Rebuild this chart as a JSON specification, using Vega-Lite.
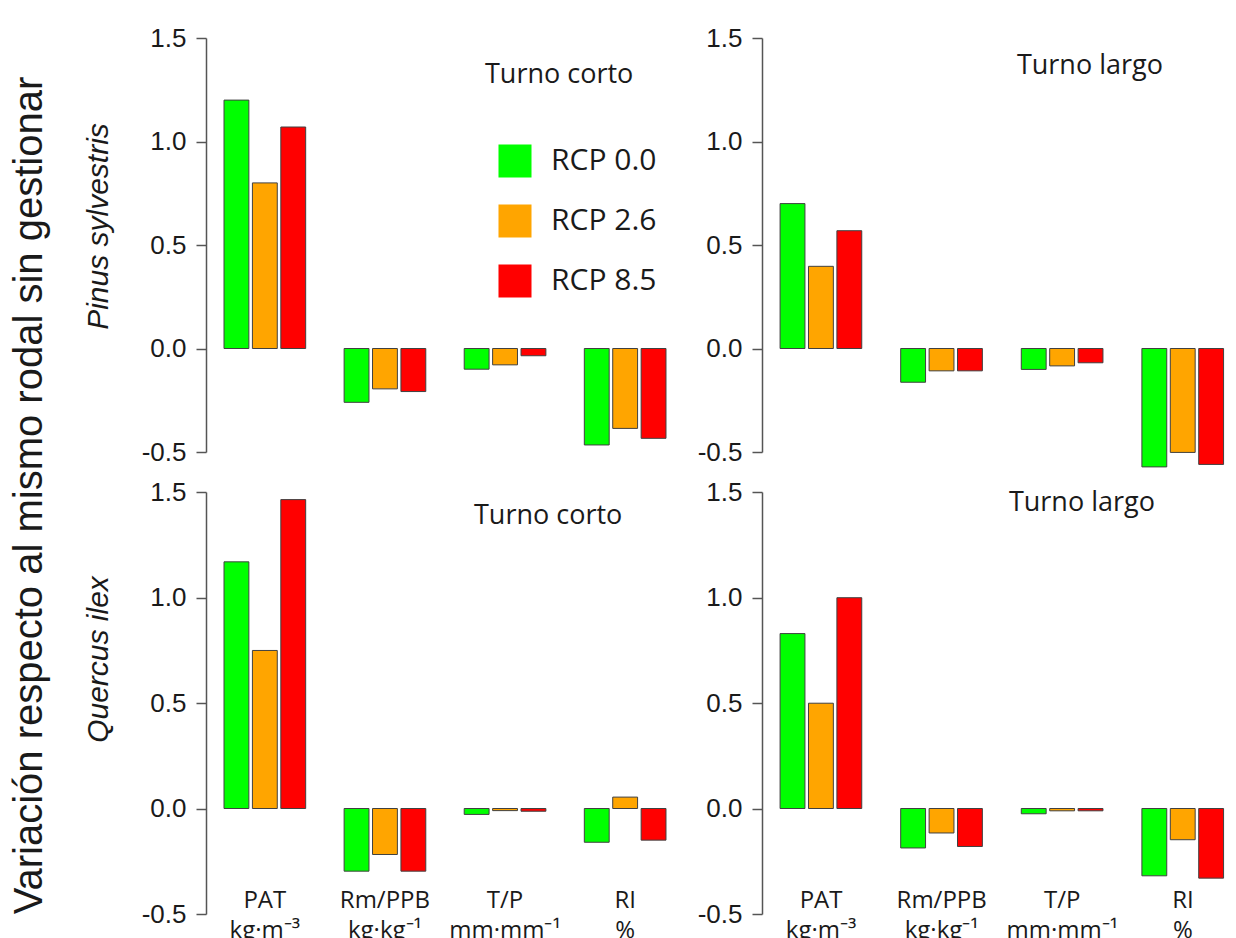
{
  "$schema": "https://vega.github.io/schema/vega-lite/v6.json",
  "autosize": {"type": "pad"},
  "padding": {"left": 10, "top": 25, "right": 0, "bottom": 0},
  "background": "white",
  "title": {
    "text": "Variación respecto al mismo rodal sin gestionar",
    "orient": "left",
    "anchor": "middle",
    "font": "Liberation Sans",
    "fontSize": 40,
    "fontWeight": "normal",
    "color": "#1a1a1a",
    "offset": 33,
    "dx": -12
  },
  "datasets": {
    "d": [
      {"species": "Pinus", "turno": "corto", "variable": "PAT", "rcp": "RCP 0.0", "value": 1.20},
      {"species": "Pinus", "turno": "corto", "variable": "PAT", "rcp": "RCP 2.6", "value": 0.80},
      {"species": "Pinus", "turno": "corto", "variable": "PAT", "rcp": "RCP 8.5", "value": 1.07},
      {"species": "Pinus", "turno": "corto", "variable": "Rm/PPB", "rcp": "RCP 0.0", "value": -0.26},
      {"species": "Pinus", "turno": "corto", "variable": "Rm/PPB", "rcp": "RCP 2.6", "value": -0.195},
      {"species": "Pinus", "turno": "corto", "variable": "Rm/PPB", "rcp": "RCP 8.5", "value": -0.208},
      {"species": "Pinus", "turno": "corto", "variable": "T/P", "rcp": "RCP 0.0", "value": -0.10},
      {"species": "Pinus", "turno": "corto", "variable": "T/P", "rcp": "RCP 2.6", "value": -0.079},
      {"species": "Pinus", "turno": "corto", "variable": "T/P", "rcp": "RCP 8.5", "value": -0.035},
      {"species": "Pinus", "turno": "corto", "variable": "RI", "rcp": "RCP 0.0", "value": -0.466},
      {"species": "Pinus", "turno": "corto", "variable": "RI", "rcp": "RCP 2.6", "value": -0.386},
      {"species": "Pinus", "turno": "corto", "variable": "RI", "rcp": "RCP 8.5", "value": -0.434},
      {"species": "Pinus", "turno": "largo", "variable": "PAT", "rcp": "RCP 0.0", "value": 0.70},
      {"species": "Pinus", "turno": "largo", "variable": "PAT", "rcp": "RCP 2.6", "value": 0.397},
      {"species": "Pinus", "turno": "largo", "variable": "PAT", "rcp": "RCP 8.5", "value": 0.569},
      {"species": "Pinus", "turno": "largo", "variable": "Rm/PPB", "rcp": "RCP 0.0", "value": -0.163},
      {"species": "Pinus", "turno": "largo", "variable": "Rm/PPB", "rcp": "RCP 2.6", "value": -0.108},
      {"species": "Pinus", "turno": "largo", "variable": "Rm/PPB", "rcp": "RCP 8.5", "value": -0.108},
      {"species": "Pinus", "turno": "largo", "variable": "T/P", "rcp": "RCP 0.0", "value": -0.101},
      {"species": "Pinus", "turno": "largo", "variable": "T/P", "rcp": "RCP 2.6", "value": -0.084},
      {"species": "Pinus", "turno": "largo", "variable": "T/P", "rcp": "RCP 8.5", "value": -0.069},
      {"species": "Pinus", "turno": "largo", "variable": "RI", "rcp": "RCP 0.0", "value": -0.572},
      {"species": "Pinus", "turno": "largo", "variable": "RI", "rcp": "RCP 2.6", "value": -0.502},
      {"species": "Pinus", "turno": "largo", "variable": "RI", "rcp": "RCP 8.5", "value": -0.56},
      {"species": "Quercus", "turno": "corto", "variable": "PAT", "rcp": "RCP 0.0", "value": 1.169},
      {"species": "Quercus", "turno": "corto", "variable": "PAT", "rcp": "RCP 2.6", "value": 0.749},
      {"species": "Quercus", "turno": "corto", "variable": "PAT", "rcp": "RCP 8.5", "value": 1.464},
      {"species": "Quercus", "turno": "corto", "variable": "Rm/PPB", "rcp": "RCP 0.0", "value": -0.297},
      {"species": "Quercus", "turno": "corto", "variable": "Rm/PPB", "rcp": "RCP 2.6", "value": -0.218},
      {"species": "Quercus", "turno": "corto", "variable": "Rm/PPB", "rcp": "RCP 8.5", "value": -0.297},
      {"species": "Quercus", "turno": "corto", "variable": "T/P", "rcp": "RCP 0.0", "value": -0.028},
      {"species": "Quercus", "turno": "corto", "variable": "T/P", "rcp": "RCP 2.6", "value": -0.010},
      {"species": "Quercus", "turno": "corto", "variable": "T/P", "rcp": "RCP 8.5", "value": -0.013},
      {"species": "Quercus", "turno": "corto", "variable": "RI", "rcp": "RCP 0.0", "value": -0.16},
      {"species": "Quercus", "turno": "corto", "variable": "RI", "rcp": "RCP 2.6", "value": 0.054},
      {"species": "Quercus", "turno": "corto", "variable": "RI", "rcp": "RCP 8.5", "value": -0.15},
      {"species": "Quercus", "turno": "largo", "variable": "PAT", "rcp": "RCP 0.0", "value": 0.829},
      {"species": "Quercus", "turno": "largo", "variable": "PAT", "rcp": "RCP 2.6", "value": 0.499},
      {"species": "Quercus", "turno": "largo", "variable": "PAT", "rcp": "RCP 8.5", "value": 0.999},
      {"species": "Quercus", "turno": "largo", "variable": "Rm/PPB", "rcp": "RCP 0.0", "value": -0.187},
      {"species": "Quercus", "turno": "largo", "variable": "Rm/PPB", "rcp": "RCP 2.6", "value": -0.116},
      {"species": "Quercus", "turno": "largo", "variable": "Rm/PPB", "rcp": "RCP 8.5", "value": -0.18},
      {"species": "Quercus", "turno": "largo", "variable": "T/P", "rcp": "RCP 0.0", "value": -0.025},
      {"species": "Quercus", "turno": "largo", "variable": "T/P", "rcp": "RCP 2.6", "value": -0.011},
      {"species": "Quercus", "turno": "largo", "variable": "T/P", "rcp": "RCP 8.5", "value": -0.011},
      {"species": "Quercus", "turno": "largo", "variable": "RI", "rcp": "RCP 0.0", "value": -0.319},
      {"species": "Quercus", "turno": "largo", "variable": "RI", "rcp": "RCP 2.6", "value": -0.148},
      {"species": "Quercus", "turno": "largo", "variable": "RI", "rcp": "RCP 8.5", "value": -0.33}
    ]
  },
  "columns": 2,
  "spacing": {"row": 40, "column": 78},
  "bounds": "flush",
  "concat": [
    {
      "width": 478, "height": 414,
      "layer": [
        {
          "data": {"name": "d"},
          "transform": [{"filter": "datum.species == 'Pinus' && datum.turno == 'corto'"}],
          "mark": {"type": "bar", "stroke": "#404040", "strokeWidth": 1},
          "encoding": {
            "x": {"field": "variable", "type": "nominal", "sort": ["PAT", "Rm/PPB", "T/P", "RI"], "scale": {"paddingInner": 0.32, "paddingOuter": 0.15}, "axis": null},
            "xOffset": {"field": "rcp", "type": "nominal", "sort": ["RCP 0.0", "RCP 2.6", "RCP 8.5"], "scale": {"paddingInner": 0.125, "paddingOuter": 0.0}},
            "y": {"field": "value", "type": "quantitative", "scale": {"domain": [-0.5, 1.5], "nice": false, "zero": false},
              "axis": {"values": [-0.5, 0, 0.5, 1, 1.5], "labelExpr": "datum.value < 0 ? '-' + format(-datum.value, '.1f') : format(datum.value, '.1f')", "title": "Pinus sylvestris", "titleFontStyle": "italic", "titleY": 188, "titlePadding": 28}},
            "color": {"field": "rcp", "type": "nominal", "scale": {"domain": ["RCP 0.0", "RCP 2.6", "RCP 8.5"], "range": ["#00FF00", "#FFA500", "#FF0000"]},
              "legend": {"title": null, "orient": "none", "legendX": 292, "legendY": 106, "symbolType": "square", "symbolSize": 1090, "symbolStrokeWidth": 0, "labelFont": "Open Sans", "labelFontSize": 30, "labelColor": "#1a1a1a", "labelOffset": 19, "rowPadding": 26, "padding": 0,
                "encode": {"symbols": {"update": {"fill": {"signal": "datum.label == 'RCP 2.6' ? '#FFC000' : datum.label == 'RCP 0.0' ? '#00FF00' : '#FF0000'"}}}}}}
          }
        },
        {"mark": {"type": "rule", "color": "#555555", "strokeWidth": 1.5}, "encoding": {"y": {"datum": 0}}},
        {
          "data": {"values": [{"label": "Turno corto"}]},
          "mark": {"type": "text", "font": "Open Sans", "fontSize": 27, "color": "#1a1a1a", "baseline": "alphabetic", "align": "center", "dx": -66},
          "encoding": {"x": {"datum": "RI"}, "y": {"datum": 1.283}, "text": {"field": "label"}}
        }
      ]
    },
    {
      "width": 480, "height": 414,
      "layer": [
        {
          "data": {"name": "d"},
          "transform": [{"filter": "datum.species == 'Pinus' && datum.turno == 'largo'"}],
          "mark": {"type": "bar", "stroke": "#404040", "strokeWidth": 1},
          "encoding": {
            "x": {"field": "variable", "type": "nominal", "sort": ["PAT", "Rm/PPB", "T/P", "RI"], "scale": {"paddingInner": 0.32, "paddingOuter": 0.15}, "axis": null},
            "xOffset": {"field": "rcp", "type": "nominal", "sort": ["RCP 0.0", "RCP 2.6", "RCP 8.5"], "scale": {"paddingInner": 0.125, "paddingOuter": 0.0}},
            "y": {"field": "value", "type": "quantitative", "scale": {"domain": [-0.5, 1.5], "nice": false, "zero": false},
              "axis": {"values": [-0.5, 0, 0.5, 1, 1.5], "labelExpr": "datum.value < 0 ? '-' + format(-datum.value, '.1f') : format(datum.value, '.1f')", "title": null}},
            "color": {"field": "rcp", "type": "nominal", "scale": {"domain": ["RCP 0.0", "RCP 2.6", "RCP 8.5"], "range": ["#00FF00", "#FFA500", "#FF0000"]},
              "legend": {"title": null, "orient": "none", "legendX": 292, "legendY": 106, "symbolType": "square", "symbolSize": 1090, "symbolStrokeWidth": 0, "labelFont": "Open Sans", "labelFontSize": 30, "labelColor": "#1a1a1a", "labelOffset": 19, "rowPadding": 26, "padding": 0,
                "encode": {"symbols": {"update": {"fill": {"signal": "datum.label == 'RCP 2.6' ? '#FFC000' : datum.label == 'RCP 0.0' ? '#00FF00' : '#FF0000'"}}}}}}
          }
        },
        {"mark": {"type": "rule", "color": "#555555", "strokeWidth": 1.5}, "encoding": {"y": {"datum": 0}}},
        {
          "data": {"values": [{"label": "Turno largo"}]},
          "mark": {"type": "text", "font": "Open Sans", "fontSize": 27, "color": "#1a1a1a", "baseline": "alphabetic", "align": "center", "dx": -93},
          "encoding": {"x": {"datum": "RI"}, "y": {"datum": 1.326}, "text": {"field": "label"}}
        }
      ]
    },
    {
      "width": 478, "height": 422,
      "layer": [
        {
          "data": {"name": "d"},
          "transform": [{"filter": "datum.species == 'Quercus' && datum.turno == 'corto'"}],
          "mark": {"type": "bar", "stroke": "#404040", "strokeWidth": 1},
          "encoding": {
            "x": {"field": "variable", "type": "nominal", "sort": ["PAT", "Rm/PPB", "T/P", "RI"], "scale": {"paddingInner": 0.32, "paddingOuter": 0.15},
              "axis": {"orient": "bottom", "offset": -26, "ticks": false, "domain": false, "labelAngle": 0, "labelPadding": 0, "labelBaseline": "top", "labelLineHeight": 30, "labelFont": "Open Sans", "labelFontSize": 24, "labelColor": "#1a1a1a", "title": null,
                "labelExpr": "datum.label == 'PAT' ? ['PAT', 'kg·m⁻³'] : datum.label == 'Rm/PPB' ? ['Rm/PPB', 'kg·kg⁻¹'] : datum.label == 'T/P' ? ['T/P', 'mm·mm⁻¹'] : ['RI', '%']"}},
            "xOffset": {"field": "rcp", "type": "nominal", "sort": ["RCP 0.0", "RCP 2.6", "RCP 8.5"], "scale": {"paddingInner": 0.125, "paddingOuter": 0.0}},
            "y": {"field": "value", "type": "quantitative", "scale": {"domain": [-0.5, 1.5], "nice": false, "zero": false},
              "axis": {"values": [-0.5, 0, 0.5, 1, 1.5], "labelExpr": "datum.value < 0 ? '-' + format(-datum.value, '.1f') : format(datum.value, '.1f')", "title": "Quercus ilex", "titleFontStyle": "italic", "titleY": 167, "titlePadding": 28}},
            "color": {"field": "rcp", "type": "nominal", "scale": {"domain": ["RCP 0.0", "RCP 2.6", "RCP 8.5"], "range": ["#00FF00", "#FFA500", "#FF0000"]},
              "legend": {"title": null, "orient": "none", "legendX": 292, "legendY": 106, "symbolType": "square", "symbolSize": 1090, "symbolStrokeWidth": 0, "labelFont": "Open Sans", "labelFontSize": 30, "labelColor": "#1a1a1a", "labelOffset": 19, "rowPadding": 26, "padding": 0,
                "encode": {"symbols": {"update": {"fill": {"signal": "datum.label == 'RCP 2.6' ? '#FFC000' : datum.label == 'RCP 0.0' ? '#00FF00' : '#FF0000'"}}}}}}
          }
        },
        {"mark": {"type": "rule", "color": "#555555", "strokeWidth": 1.5}, "encoding": {"y": {"datum": 0}}},
        {
          "data": {"values": [{"label": "Turno corto"}]},
          "mark": {"type": "text", "font": "Open Sans", "fontSize": 27, "color": "#1a1a1a", "baseline": "alphabetic", "align": "center", "dx": -77},
          "encoding": {"x": {"datum": "RI"}, "y": {"datum": 1.348}, "text": {"field": "label"}}
        }
      ]
    },
    {
      "width": 480, "height": 422,
      "layer": [
        {
          "data": {"name": "d"},
          "transform": [{"filter": "datum.species == 'Quercus' && datum.turno == 'largo'"}],
          "mark": {"type": "bar", "stroke": "#404040", "strokeWidth": 1},
          "encoding": {
            "x": {"field": "variable", "type": "nominal", "sort": ["PAT", "Rm/PPB", "T/P", "RI"], "scale": {"paddingInner": 0.32, "paddingOuter": 0.15},
              "axis": {"orient": "bottom", "offset": -26, "ticks": false, "domain": false, "labelAngle": 0, "labelPadding": 0, "labelBaseline": "top", "labelLineHeight": 30, "labelFont": "Open Sans", "labelFontSize": 24, "labelColor": "#1a1a1a", "title": null,
                "labelExpr": "datum.label == 'PAT' ? ['PAT', 'kg·m⁻³'] : datum.label == 'Rm/PPB' ? ['Rm/PPB', 'kg·kg⁻¹'] : datum.label == 'T/P' ? ['T/P', 'mm·mm⁻¹'] : ['RI', '%']"}},
            "xOffset": {"field": "rcp", "type": "nominal", "sort": ["RCP 0.0", "RCP 2.6", "RCP 8.5"], "scale": {"paddingInner": 0.125, "paddingOuter": 0.0}},
            "y": {"field": "value", "type": "quantitative", "scale": {"domain": [-0.5, 1.5], "nice": false, "zero": false},
              "axis": {"values": [-0.5, 0, 0.5, 1, 1.5], "labelExpr": "datum.value < 0 ? '-' + format(-datum.value, '.1f') : format(datum.value, '.1f')", "title": null}},
            "color": {"field": "rcp", "type": "nominal", "scale": {"domain": ["RCP 0.0", "RCP 2.6", "RCP 8.5"], "range": ["#00FF00", "#FFA500", "#FF0000"]},
              "legend": {"title": null, "orient": "none", "legendX": 292, "legendY": 106, "symbolType": "square", "symbolSize": 1090, "symbolStrokeWidth": 0, "labelFont": "Open Sans", "labelFontSize": 30, "labelColor": "#1a1a1a", "labelOffset": 19, "rowPadding": 26, "padding": 0,
                "encode": {"symbols": {"update": {"fill": {"signal": "datum.label == 'RCP 2.6' ? '#FFC000' : datum.label == 'RCP 0.0' ? '#00FF00' : '#FF0000'"}}}}}}
          }
        },
        {"mark": {"type": "rule", "color": "#555555", "strokeWidth": 1.5}, "encoding": {"y": {"datum": 0}}},
        {
          "data": {"values": [{"label": "Turno largo"}]},
          "mark": {"type": "text", "font": "Open Sans", "fontSize": 27, "color": "#1a1a1a", "baseline": "alphabetic", "align": "center", "dx": -101},
          "encoding": {"x": {"datum": "RI"}, "y": {"datum": 1.41}, "text": {"field": "label"}}
        }
      ]
    }
  ],
  "config": {
    "view": {"stroke": null},
    "axis": {"grid": false, "labelFont": "Liberation Sans", "labelFontSize": 26, "labelColor": "#1a1a1a", "tickSize": 10, "tickColor": "#555555", "tickWidth": 1.5, "domainColor": "#555555", "domainWidth": 1.5, "labelPadding": 10, "titleFont": "Liberation Sans", "titleFontSize": 30, "titleFontWeight": "normal", "titleColor": "#1a1a1a"}
  }
}
